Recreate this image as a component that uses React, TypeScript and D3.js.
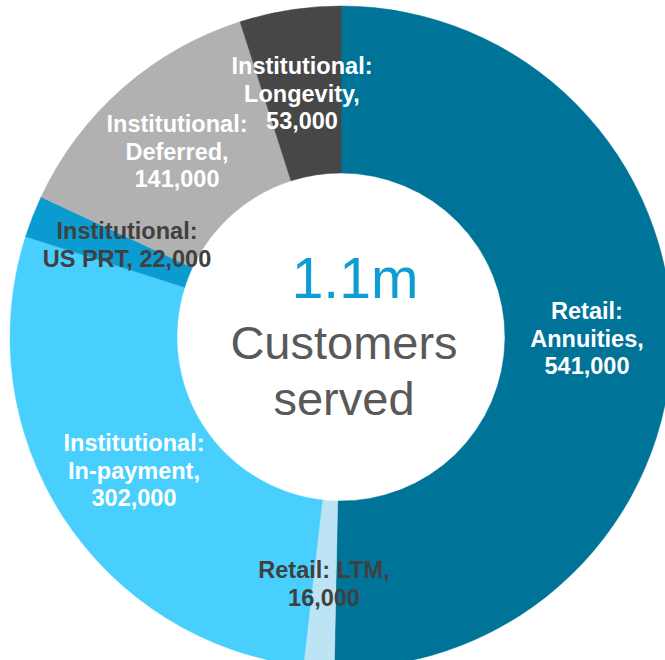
import * as d3 from "d3";
import { useEffect, useRef } from "react";

// segments clockwise from 12 o'clock
const segments = [
	"Retail: Annuities",
	"Retail: LTM",
	"Institutional: In-payment",
	"Institutional: US PRT",
	"Institutional: Deferred",
	"Institutional: Longevity",
];
const customers = [541000, 16000, 302000, 22000, 141000, 53000];
const colors = ["#007399", "#bde4f4", "#48cffd", "#0a9bd0", "#b1b1b1", "#474747"];

// label lines per segment, as printed on the chart
const labelLines = [
	["Retail:", "Annuities,", "541,000"],
	["Retail: LTM,", "16,000"],
	["Institutional:", "In-payment,", "302,000"],
	["Institutional:", "US PRT, 22,000"],
	["Institutional:", "Deferred,", "141,000"],
	["Institutional:", "Longevity,", "53,000"],
];
const labelColors = ["#fff", "#404040", "#fff", "#404040", "#fff", "#fff"];
// hand placed anchors (centre x, first baseline) relative to chart centre
const labelAnchors: [number, number][] = [
	[246, -18],
	[-17, 241],
	[-207, 114],
	[-214, -98],
	[-164, -205],
	[-39, -263],
];

const centreLines = ["Customers", "served"];

export default function App() {
	const ref = useRef<SVGSVGElement | null>(null);

	useEffect(() => {
		if (!ref.current) return;
		const width = 665;
		const height = 660;
		const cx = 341;
		const cy = 337;
		const outer = 331;
		const inner = 164;

		const svg = d3.select(ref.current);
		svg.selectAll("*").remove();
		svg.attr("width", width).attr("height", height);

		const g = svg.append("g").attr("transform", `translate(${cx},${cy})`);

		const pie = d3.pie<number>().sort(null).value((d) => d);
		const arc = d3.arc<d3.PieArcDatum<number>>().innerRadius(inner).outerRadius(outer);

		g.selectAll("path")
			.data(pie(customers))
			.join("path")
			.attr("d", arc)
			.attr("fill", (_, i) => colors[i])
			.attr("stroke", (_, i) => colors[i])
			.attr("stroke-width", 0.5);

		const labels = g
			.append("g")
			.attr("font-family", "'Liberation Sans', Arial, sans-serif")
			.attr("font-weight", "bold")
			.attr("font-size", 23.5)
			.attr("text-anchor", "middle")
			.selectAll("text")
			.data(segments)
			.join("text")
			.attr("fill", (_, i) => labelColors[i])
			.attr("x", (_, i) => labelAnchors[i][0])
			.attr("y", (_, i) => labelAnchors[i][1]);

		labels
			.selectAll("tspan")
			.data((_, i) => labelLines[i].map((t) => ({ t, i })))
			.join("tspan")
			.attr("x", (d) => labelAnchors[d.i][0])
			.attr("dy", (_, j) => (j === 0 ? 0 : 27.5))
			.text((d) => d.t);

		g.append("text")
			.attr("x", 14)
			.attr("y", -39)
			.attr("text-anchor", "middle")
			.attr("font-family", "'Liberation Sans', Arial, sans-serif")
			.attr("font-size", 57)
			.attr("fill", "#0e9dd3")
			.text("1.1m");

		g.append("g")
			.attr("font-family", "'Liberation Sans', Arial, sans-serif")
			.attr("font-size", 47)
			.attr("fill", "#595959")
			.attr("text-anchor", "middle")
			.selectAll("text")
			.data(centreLines)
			.join("text")
			.attr("x", 3)
			.attr("y", (_, i) => 22 + i * 56)
			.text((d) => d);
	}, []);

	return (
		<svg
			ref={ref}
			style={{ position: "absolute", left: 0, top: 0, background: "#fff" }}
		></svg>
	);
}
